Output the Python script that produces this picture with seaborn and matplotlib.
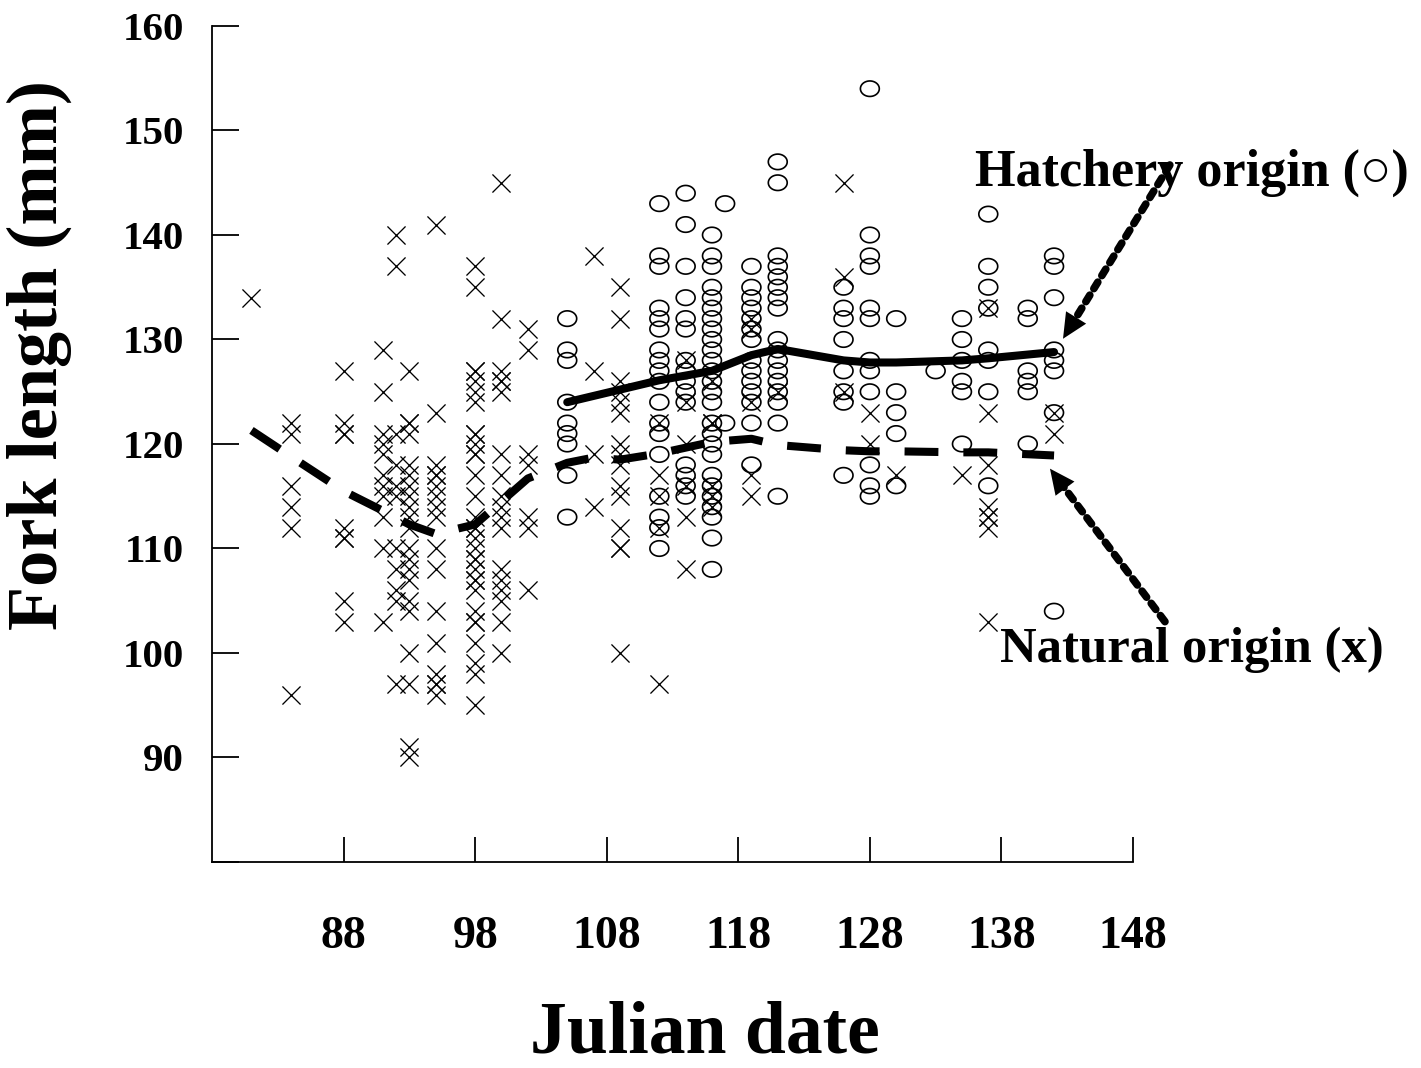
import numpy as np
import pandas as pd
import matplotlib
matplotlib.use("Agg")
import matplotlib.pyplot as plt
import seaborn as sns
from matplotlib.path import Path

# ---------------- data ----------------
natural_days = [81, 84, 88, 91, 92, 93, 95, 98, 100, 102, 107, 109, 112, 114,
                116, 119, 121, 126, 128, 130, 135, 137, 142]
natural_lengths = [
    [134],
    [122, 121, 116, 114, 112, 96],
    [127, 122, 121, 121, 112, 111, 111, 105, 103],
    [129, 125, 121, 120, 119, 117, 116, 115, 113, 110, 103],
    [140, 137, 121, 118, 116, 115, 110, 108, 106, 105, 97],
    [127, 122, 122, 121, 118, 117, 116, 115, 114, 113, 112, 110, 109, 108,
     107, 105, 104, 100, 97, 91, 90],
    [141, 123, 118, 117, 117, 116, 115, 114, 113, 110, 108, 104, 101, 98,
     97, 97, 96],
    [137, 135, 127, 127, 126, 125, 124, 121, 121, 120, 119, 119, 117, 115,
     113, 112, 112, 111, 110, 109, 109, 108, 107, 107, 106, 104, 103, 103,
     101, 99, 98, 95],
    [145, 132, 127, 126, 126, 125, 119, 117, 115, 114, 113, 112, 108, 107,
     106, 105, 103, 100],
    [131, 129, 119, 118, 113, 112, 106],
    [138, 127, 119, 114],
    [135, 132, 126, 125, 124, 123, 120, 119, 118, 116, 115, 112, 110, 110, 100],
    [122, 117, 115, 112, 97],
    [128, 124, 120, 116, 113, 108],
    [126, 122, 122, 116, 115, 114],
    [132, 131, 124, 117, 115],
    [125],
    [145, 136, 125],
    [123, 120],
    [117],
    [117],
    [133, 123, 118, 114, 113, 113, 112, 103],
    [123, 121],
]

hatchery_days = [105, 112, 114, 116, 117, 119, 121, 126, 128, 130, 133, 135,
                 137, 140, 142]
hatchery_lengths = [
    [132, 129, 128, 124, 122, 121, 120, 117, 113],
    [143, 138, 137, 133, 132, 131, 129, 128, 127, 126, 124, 122, 121, 119,
     115, 113, 112, 110],
    [144, 141, 137, 134, 132, 131, 128, 127, 126, 125, 124, 118, 117, 116, 115],
    [140, 138, 137, 135, 134, 133, 132, 131, 130, 129, 128, 127, 126, 125,
     124, 122, 121, 120, 119, 117, 116, 115, 114, 113, 111, 108],
    [143, 122],
    [137, 135, 134, 133, 132, 131, 130, 128, 127, 126, 125, 124, 122, 118],
    [147, 145, 138, 137, 136, 135, 134, 133, 130, 129, 128, 127, 126, 125,
     124, 122, 115],
    [135, 133, 132, 130, 127, 125, 124, 117],
    [154, 140, 138, 137, 133, 132, 128, 127, 125, 118, 116, 115],
    [132, 125, 123, 121, 116],
    [127],
    [132, 130, 128, 126, 125, 120],
    [142, 137, 135, 133, 129, 128, 125, 116],
    [133, 132, 127, 126, 125, 120],
    [138, 137, 134, 129, 128, 127, 123, 104],
]

hatchery_line_days = [105, 112, 116, 119, 121, 126, 128, 130, 135, 137, 142]
hatchery_line_lengths = [124.0, 126.1, 127.0, 128.5, 129.1, 128.0, 127.8,
                         127.8, 128.0, 128.2, 128.8]

natural_line_days = [81, 84, 88, 91, 93, 95, 98, 100, 102, 105, 107, 109, 112,
                     116, 119, 121, 126, 128, 130, 135, 137, 142]
natural_line_lengths = [121.3, 118.8, 115.5, 113.6, 112.3, 111.4, 112.3, 114.5,
                        116.7, 118.2, 118.7, 118.5, 119.1, 120.2, 120.5, 119.9,
                        119.4, 119.3, 119.3, 119.2, 119.2, 118.9]

x_ticks = [88, 98, 108, 118, 128, 138, 148]
y_ticks = [80, 90, 100, 110, 120, 130, 140, 150, 160]
y_tick_labels = ["", "90", "100", "110", "120", "130", "140", "150", "160"]

# ---------------- style ----------------
sns.set_theme(style="ticks")
plt.rcParams["font.family"] = ["Liberation Serif", "DejaVu Sans"]
plt.rcParams["font.weight"] = "bold"
plt.rcParams["axes.labelweight"] = "bold"
for k in ["text.color", "axes.labelcolor", "xtick.color", "ytick.color",
          "axes.edgecolor"]:
    plt.rcParams[k] = "black"

fig = plt.figure(figsize=(14.21, 10.68), dpi=100)
ax = fig.add_axes([212 / 1421, 1 - 862 / 1068, 921 / 1421, 836 / 1068])

nat_df = pd.DataFrame({
    "day": np.repeat(natural_days, [len(v) for v in natural_lengths]),
    "length": np.concatenate(natural_lengths),
})
hat_df = pd.DataFrame({
    "day": np.repeat(hatchery_days, [len(v) for v in hatchery_lengths]),
    "length": np.concatenate(hatchery_lengths),
})

# elliptical "circle" marker (slightly wider than tall, as in the figure)
t = np.linspace(0, 2 * np.pi, 73)
ellipse = Path(np.column_stack([np.cos(t), 0.82 * np.sin(t)]), closed=True)

sns.scatterplot(data=nat_df, x="day", y="length", marker="x", s=170,
                color="black", linewidth=0.95, ax=ax, legend=False, zorder=2)
sns.scatterplot(data=hat_df, x="day", y="length", marker=ellipse, s=185,
                facecolor="none", edgecolor="black", linewidth=1.2, ax=ax,
                legend=False, zorder=2)

sns.lineplot(x=hatchery_line_days, y=hatchery_line_lengths, color="black",
             linewidth=5.8, sort=False, estimator=None, ax=ax, zorder=3)
sns.lineplot(x=natural_line_days, y=natural_line_lengths, color="black",
             linewidth=5.8, linestyle=(0, (4.2, 3.1)), sort=False,
             estimator=None, ax=ax, zorder=3)

ax.set_xlim(78, 148)
ax.set_ylim(80, 160)
ax.set_xticks(x_ticks)
ax.set_xticklabels([str(v) for v in x_ticks])
ax.set_yticks(y_ticks)
ax.set_yticklabels(y_tick_labels)
sns.despine(ax=ax)
for s in ["left", "bottom"]:
    ax.spines[s].set_linewidth(1.3)
ax.tick_params(axis="y", direction="in", length=19.5, width=1.3, pad=20,
               labelsize=29.5)
ax.tick_params(axis="x", direction="in", length=18, width=1.3, pad=39,
               labelsize=33)

ax.set_xlabel("Julian date", fontsize=53, fontweight="bold")
ax.set_ylabel("Fork length (mm)", fontsize=52, fontweight="bold")
ax.xaxis.set_label_coords(0.535, -0.166)
ax.yaxis.set_label_coords(-0.152, 0.6065)


def dotted_arrow(start, tip):
    sx, sy = start
    tx, ty = tip
    end = (tx + 0.11 * (sx - tx), ty + 0.11 * (sy - ty))
    hb = (tx + 0.14 * (sx - tx), ty + 0.14 * (sy - ty))
    ax.annotate("", xy=end, xytext=start, annotation_clip=False,
                arrowprops=dict(arrowstyle="-", color="black", lw=5.5,
                                linestyle=(0, (1, 1)), shrinkA=0, shrinkB=0),
                zorder=4)
    ax.annotate("", xy=tip, xytext=hb, annotation_clip=False,
                arrowprops=dict(arrowstyle="-|>,head_length=18,head_width=8.5",
                                mutation_scale=1, color="black", lw=0,
                                shrinkA=0, shrinkB=0),
                zorder=4)


dotted_arrow((150.8, 146.7), (142.68, 130.07))
dotted_arrow((150.43, 103.0), (141.69, 117.64))

ax.text(152.5, 144.7, "Hatchery origin (\u25cb)", ha="center", va="baseline",
        fontsize=37.5, fontweight="bold", clip_on=False, zorder=5)
ax.text(152.5, 99.1, "Natural origin (x)", ha="center", va="baseline",
        fontsize=36.5, fontweight="bold", clip_on=False, zorder=5)

fig.savefig("out.png", dpi=100)
